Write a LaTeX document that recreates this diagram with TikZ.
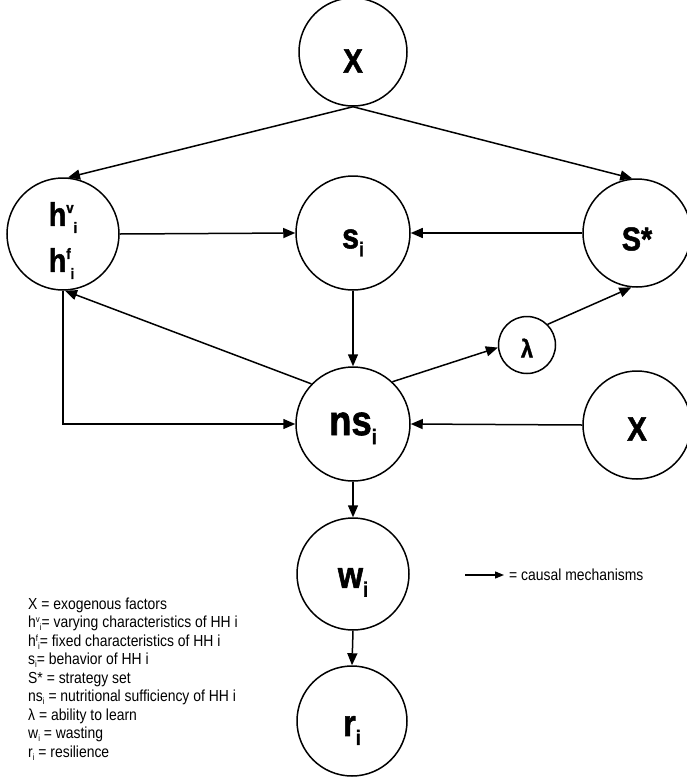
\documentclass[tikz,border=0pt]{standalone}
\usepackage{fontspec}
\setmainfont{Liberation Sans}[FakeStretch=0.87, BoldFeatures={FakeBold=1.5}]
\usetikzlibrary{arrows.meta}
\newcommand{\shift}[3]{\raisebox{#3}[0pt][0pt]{\fontsize{#2}{#2}\selectfont #1}}
\newcommand{\down}[2]{\raisebox{-#1}[\height][\depth]{#2}}
\begin{document}
\begin{tikzpicture}[x=1pt,y=-1pt,
  circ/.style={draw, circle, line width=1.5pt, inner sep=0pt, font=\bfseries},
  conn/.style={draw, line width=1.5pt, -{Triangle[length=12pt,width=10pt]}},
  legend/.style={anchor=base west, inner sep=0pt, font=\fontsize{16}{16}\selectfont}]
\useasboundingbox (0,0) rectangle (687,777);
% nodes
\node[circ, minimum size=108pt, font=\fontsize{34}{34}\selectfont\bfseries] (X1) at (353,52) {\down{9pt}{X}};
\node[circ, minimum size=112pt, align=left, font=\fontsize{33}{44}\selectfont\bfseries] (H) at (63,234)
  {\down{2pt}{h\shift{v}{15}{13pt}\shift{i}{15}{-7pt}}\\\down{4pt}{h\shift{f}{15}{13pt}\shift{i}{15}{-7pt}}};
\node[circ, minimum size=114pt, font=\fontsize{35}{35}\selectfont\bfseries] (S) at (353,233) {\down{6pt}{s\shift{i}{20}{-8pt}}};
\node[circ, minimum size=108pt, font=\fontsize{33}{33}\selectfont\bfseries] (SS) at (637,233) {\down{6pt}{S*}};
\node[circ, minimum size=57pt, font=\fontsize{25}{25}\selectfont\bfseries] (L) at (527,345) {\down{3pt}{λ}};
\node[circ, minimum size=114pt, font=\fontsize{42}{42}\selectfont\bfseries] (NS) at (353,424) {ns\shift{i}{21}{-9pt}};
\node[circ, minimum size=108pt, font=\fontsize{34}{34}\selectfont\bfseries] (X2) at (637,425) {\down{4pt}{X}};
\node[circ, minimum size=112pt, font=\fontsize{37}{37}\selectfont\bfseries] (W) at (353,574) {\down{4pt}{w\shift{i}{21}{-9pt}}};
\node[circ, minimum size=110pt, font=\fontsize{37}{37}\selectfont\bfseries] (R) at (352,721) {\down{5pt}{r\shift{i}{21}{-9pt}}};
% connectors
\draw[conn] (X1.south) -- (H.85);
\draw[conn] (X1.south) -- (SS.95);
\draw[conn] (H.east) -- (S.west);
\draw[conn] (SS.west) -- (S.east);
\draw[conn] (S.south) -- (NS.north);
\draw[conn] (NS.136) -- (H.272);
\draw[conn] (H.south) |- (NS.west);
\draw[conn] (NS.47) -- (L.185);
\draw[conn] (L.45) -- (SS.264);
\draw[conn] (X2.west) -- (NS.east);
\draw[conn] (NS.south) -- (W.north);
\draw[conn] (W.south) -- (R.north);
% legend
\coordinate (la) at (465,575);
\coordinate (lb) at (504,575);
\draw[conn, line width=1.3pt, -{Triangle[length=9pt,width=7pt]}] (la) -- (lb);
\node[anchor=west, inner sep=0pt, font=\fontsize{16}{16}\selectfont] (lt) at (509,575) {= causal mechanisms};
\node[legend] (l1) at (28,609) {X = exogenous factors};
\node[legend] (l2) at (28,627.5) {h\shift{v}{9}{5pt}\shift{i}{9}{-3pt}= varying characteristics of HH i};
\node[legend] (l3) at (28,646) {h\shift{f}{9}{5pt}\shift{i}{9}{-3pt}= fixed characteristics of HH i};
\node[legend] (l4) at (28,664.5) {s\shift{i}{9}{-3pt}= behavior of HH i};
\node[legend] (l5) at (28,683) {S* = strategy set};
\node[legend] (l6) at (28,701.5) {ns\shift{i}{9}{-3pt} = nutritional sufficiency of HH i};
\node[legend] (l7) at (28,720) {λ = ability to learn};
\node[legend] (l8) at (28,738.5) {w\shift{i}{9}{-3pt} = wasting};
\node[legend] (l9) at (28,757) {r\shift{i}{9}{-3pt} = resilience};
\end{tikzpicture}
\end{document}
